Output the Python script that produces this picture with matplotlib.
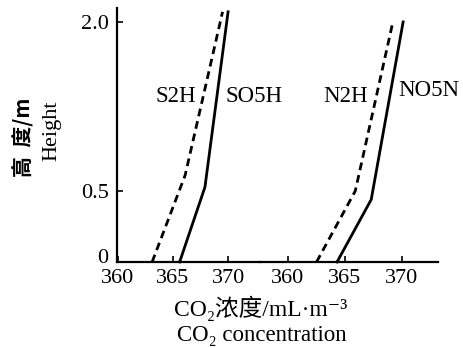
import numpy as np
import matplotlib
matplotlib.use("Agg")
import matplotlib.pyplot as plt
from matplotlib.transforms import ScaledTranslation

# ---- data ----
heights_ticks = [0, 0.5, 2.0]
ytick_labels = ["0", "0.5", "2.0"]
xticks = [360, 365, 370]
xtick_labels = ["360", "365", "370"]

# left group (S)
s2h_x = [363.1, 366.1, 369.5]
s2h_h = [0, 0.64, 2.09]
so5h_x = [365.6, 367.9, 370.0]
so5h_h = [0, 0.535, 2.09]
# right group (N)
n2h_x = [362.5, 365.9, 369.2]
n2h_h = [0, 0.5, 2.0]
no5n_x = [364.3, 367.3, 370.1]
no5n_h = [0, 0.44, 2.0]

W, H = 464, 348
fig = plt.figure(figsize=(W / 100, H / 100), dpi=100)

# piecewise (broken) height scale
def fwd(h):
    h = np.asarray(h, dtype=float)
    return np.where(h <= 0.5, h * 142.0, 71.0 + (h - 0.5) * 112.67)

def inv(p):
    p = np.asarray(p, dtype=float)
    return np.where(p <= 71.0, p / 142.0, 0.5 + (p - 71.0) / 112.67)

def px_ax(x0, x1, ytop, ybot):
    return [x0 / W, 1 - ybot / H, (x1 - x0) / W, (ybot - ytop) / H]

ax1 = fig.add_axes(px_ax(117, 260, 8, 262))
ax2 = fig.add_axes(px_ax(260, 438, 8, 262))

serif = "Liberation Serif"
cjk = ["Liberation Serif", "Noto Sans CJK SC", "DejaVu Sans"]
tick_fs = 16
lw = 2.0
for ax in (ax1, ax2):
    ax.set_yscale("function", functions=(fwd, inv))
    ax.set_ylim(0, 2.124)
    ax.spines["top"].set_visible(False)
    ax.spines["right"].set_visible(False)
    ax.spines["bottom"].set_linewidth(1.6)
    ax.spines["left"].set_linewidth(1.6)
    ax.set_xticks(xticks)
    ax.set_xticklabels(xtick_labels, fontfamily=serif, fontsize=tick_fs)
    ax.tick_params(axis="both", direction="in", length=4, width=1.2, pad=5)
    ax.patch.set_alpha(0)

ax1.set_xlim(359.91, 372.9)
ax2.set_xlim(357.54, 373.16)

ax1.set_yticks(heights_ticks)
ax1.set_yticklabels(ytick_labels, fontfamily=serif, fontsize=tick_fs)
ax1.yaxis.set_minor_locator(matplotlib.ticker.NullLocator())
ax1.tick_params(axis="y", pad=6)
ax2.spines["left"].set_visible(False)
ax2.set_yticks([])
ax2.yaxis.set_minor_locator(matplotlib.ticker.NullLocator())

# lift the "0" label a little, as in the reference
lab0 = ax1.yaxis.get_major_ticks()[0].label1
lab0.set_transform(lab0.get_transform() + ScaledTranslation(0, 6 / 100, fig.dpi_scale_trans))

ax1.plot(s2h_x, s2h_h, color="black", lw=lw, ls=(0, (2.8, 1.8)), clip_on=False)
ax1.plot(so5h_x, so5h_h, color="black", lw=lw, clip_on=False)
ax2.plot(n2h_x, n2h_h, color="black", lw=lw, ls=(0, (2.8, 1.8)), clip_on=False)
ax2.plot(no5n_x, no5n_h, color="black", lw=lw, clip_on=False)

def ftext(x, y, s, **kw):
    fig.text(x / W, 1 - y / H, s, **kw)

lab_fs = 16.5
ftext(176, 96, "S2H", fontfamily=serif, fontsize=lab_fs, ha="center", va="center")
ftext(254, 96, "SO5H", fontfamily=serif, fontsize=lab_fs, ha="center", va="center")
ftext(346, 96, "N2H", fontfamily=serif, fontsize=lab_fs, ha="center", va="center")
ftext(429, 91, "NO5N", fontfamily=serif, fontsize=lab_fs, ha="center", va="center")

ftext(23, 137, "高  度/m", fontfamily=["Noto Sans CJK SC", "DejaVu Sans"], fontsize=15,
      fontweight="bold", rotation=90, ha="center", va="center")
ftext(52, 131, "Height", fontfamily=serif, fontsize=16, rotation=90, ha="center", va="center")

ftext(261, 308, "CO₂浓度/mL·m⁻³", fontfamily=cjk, fontsize=17, ha="center", va="center")
ftext(262, 335, "CO₂ concentration", fontfamily=serif, fontsize=16.5, ha="center", va="center")

fig.savefig("out.png", dpi=100)
